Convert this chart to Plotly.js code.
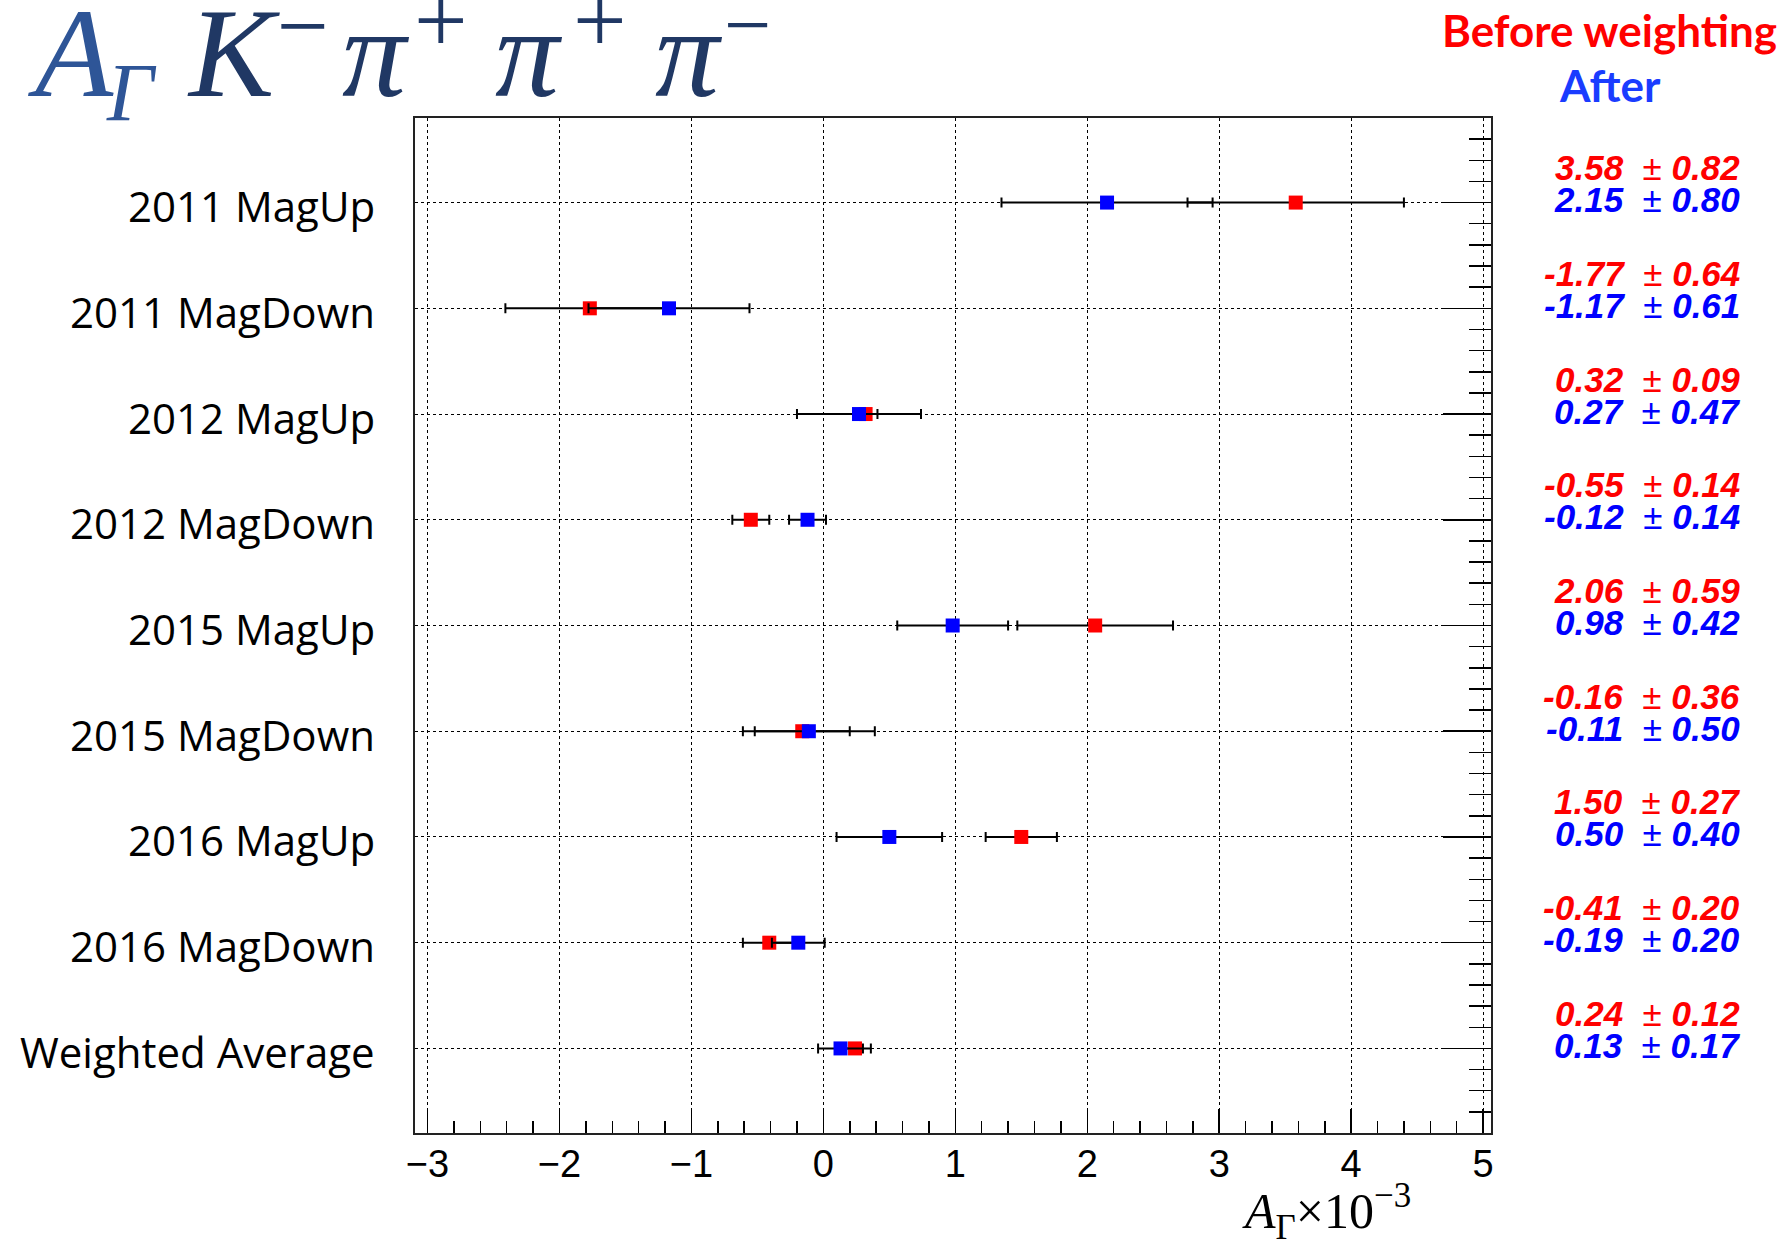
<!DOCTYPE html>
<html>
<head>
<meta charset="utf-8">
<script src="https://cdn.plot.ly/plotly-3.0.1.min.js"></script>
<style>html,body{margin:0;padding:0;background:#fff;}#chart{width:1785px;height:1240px;}</style>
</head>
<body>
<div id="chart"></div>
<script>
// ---------- data ----------
const categories = ["2011 MagUp", "2011 MagDown", "2012 MagUp", "2012 MagDown", "2015 MagUp",
                    "2015 MagDown", "2016 MagUp", "2016 MagDown", "Weighted Average"];
const beforeVal = [3.58, -1.77, 0.32, -0.55, 2.06, -0.16, 1.50, -0.41, 0.24];
const beforeErr = [0.82, 0.64, 0.09, 0.14, 0.59, 0.36, 0.27, 0.20, 0.12];
const afterVal  = [2.15, -1.17, 0.27, -0.12, 0.98, -0.11, 0.50, -0.19, 0.13];
const afterErr  = [0.80, 0.61, 0.47, 0.14, 0.42, 0.50, 0.40, 0.20, 0.17];
const xTickVals = [-3, -2, -1, 0, 1, 2, 3, 4, 5];

// ---------- layout helpers ----------
const W = 1785, H = 1240;
const L = 414.5, R = 1491, T = 117.7, B = 1133;
const px = x => (x - L) / (R - L);
const py = y => (B - y) / (B - T);
const n = categories.length;
const rowY = categories.map((c, i) => n - i);

const RED = "#FF0000", BLUE = "#0000FF";

const traceBefore = {
  type: "scatter", mode: "markers", name: "Before weighting",
  x: beforeVal, y: rowY,
  error_x: {type: "data", array: beforeErr, visible: true, color: "#000", thickness: 2, width: 5},
  marker: {symbol: "square", size: 14, color: RED},
  cliponaxis: false, hoverinfo: "x"
};
const traceAfter = {
  type: "scatter", mode: "markers", name: "After",
  x: afterVal, y: rowY,
  error_x: {type: "data", array: afterErr, visible: true, color: "#000", thickness: 2, width: 5},
  marker: {symbol: "square", size: 14, color: BLUE},
  cliponaxis: false, hoverinfo: "x"
};

const fmt = v => v.toFixed(2);
const annotations = [];

// left row labels
categories.forEach((c, i) => {
  annotations.push({
    xref: "paper", yref: "y", x: px(376), y: rowY[i], xanchor: "right", yanchor: "middle",
    yshift: -3, showarrow: false, text: c,
    font: {family: "Open Sans", size: 42, color: "#000"}
  });
});

// right value texts
categories.forEach((c, i) => {
  annotations.push({
    xref: "paper", yref: "y", x: px(1742), y: rowY[i], xanchor: "right", yanchor: "middle",
    yshift: 35, showarrow: false,
    text: "<b><i>" + fmt(beforeVal[i]) + "</i></b>\u00a0\u00a0±\u00a0<b><i>" + fmt(beforeErr[i]) + "</i></b>",
    font: {family: "Liberation Sans", size: 35, color: RED}
  });
  annotations.push({
    xref: "paper", yref: "y", x: px(1742), y: rowY[i], xanchor: "right", yanchor: "middle",
    yshift: 3, showarrow: false,
    text: "<b><i>" + fmt(afterVal[i]) + "</i></b>\u00a0\u00a0±\u00a0<b><i>" + fmt(afterErr[i]) + "</i></b>",
    font: {family: "Liberation Sans", size: 35, color: BLUE}
  });
});

// legend-like headers
annotations.push({
  xref: "paper", yref: "paper", x: px(1610), y: py(30), xanchor: "center", yanchor: "middle",
  showarrow: false, text: "<b>Before weighting</b>",
  font: {family: "Lato", size: 44, color: RED}
});
annotations.push({
  xref: "paper", yref: "paper", x: px(1610), y: py(85), xanchor: "center", yanchor: "middle",
  showarrow: false, text: "<b>After</b>",
  font: {family: "Lato", size: 44, color: "#1A3CFF"}
});

// big title, glyph by glyph
const TITLE_LIGHT = "#2E5597", TITLE_DARK = "#203864";
const titleParts = [
  {t: "<i>A</i>", cx: 70,  cy: 53, s: 128, c: TITLE_LIGHT},
  {t: "<i>Γ</i>", cx: 131, cy: 92, s: 82,  c: TITLE_LIGHT},
  {t: "<i>K</i>", cx: 233, cy: 53, s: 128, c: TITLE_DARK},
  {t: "−",        cx: 302, cy: 26, s: 92,  c: TITLE_DARK},
  {t: "<i>π</i>", cx: 375, cy: 53, s: 128, c: TITLE_DARK},
  {t: "+",        cx: 441, cy: 20, s: 95,  c: TITLE_DARK},
  {t: "<i>π</i>", cx: 529, cy: 53, s: 128, c: TITLE_DARK},
  {t: "+",        cx: 600, cy: 20, s: 95,  c: TITLE_DARK},
  {t: "<i>π</i>", cx: 689, cy: 53, s: 128, c: TITLE_DARK},
  {t: "−",        cx: 747, cy: 24, s: 84,  c: TITLE_DARK}
];
titleParts.forEach(p => annotations.push({
  xref: "paper", yref: "paper", x: px(p.cx), y: py(p.cy), xanchor: "center", yanchor: "middle",
  showarrow: false, text: p.t,
  font: {family: "Liberation Serif", size: p.s, color: p.c}
}));

// x-axis title
annotations.push({
  xref: "paper", yref: "paper", x: px(1326), y: py(1212), xanchor: "center", yanchor: "middle",
  showarrow: false,
  text: "<i>A</i><sub>Γ</sub>×10<sup>−3</sup>",
  font: {family: "Liberation Serif", size: 50, color: "#000"}
});

const layout = {
  width: W, height: H,
  margin: {l: L, r: W - R, t: T, b: H - B, pad: 0},
  paper_bgcolor: "#fff", plot_bgcolor: "#fff",
  showlegend: false,
  xaxis: {
    range: [-3.095, 5.06], tickvals: xTickVals, ticktext: xTickVals.map(v => v < 0 ? "−" + Math.abs(v) : String(v)),
    ticks: "inside", ticklen: 24, tickwidth: 1.5, tickcolor: "#000",
    minor: {dtick: 0.2, tick0: 0, ticks: "inside", ticklen: 12, tickwidth: 1.5, tickcolor: "#000", showgrid: false},
    showgrid: true, gridcolor: "#000", gridwidth: 1, griddash: "dot",
    showline: true, linecolor: "#222", linewidth: 2, mirror: true,
    zeroline: false,
    tickfont: {family: "Liberation Sans", size: 38, color: "#000"},
    ticklabelstandoff: -4
  },
  yaxis: {
    range: [0.2, 9.8], tickvals: rowY,
    side: "right",
    ticks: "inside", ticklen: 48, tickwidth: 1.5, tickcolor: "#000",
    minor: {dtick: 0.2, tick0: 0, ticks: "inside", ticklen: 22, tickwidth: 1.5, tickcolor: "#000", showgrid: false},
    showgrid: true, gridcolor: "#000", gridwidth: 1, griddash: "dot",
    showline: true, linecolor: "#222", linewidth: 2, mirror: true,
    zeroline: false, showticklabels: false
  },
  annotations: annotations
};

Plotly.newPlot("chart", [traceBefore, traceAfter], layout, {displayModeBar: false, staticPlot: true});
</script>
</body>
</html>
